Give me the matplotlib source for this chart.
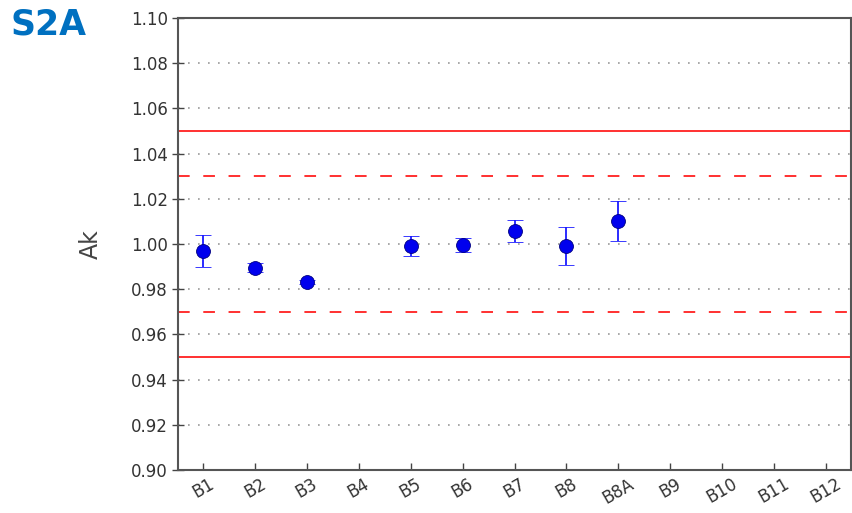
import matplotlib
matplotlib.use("Agg")
import matplotlib.pyplot as plt
import numpy as np

bands = ["B1", "B2", "B3", "B4", "B5", "B6", "B7", "B8", "B8A", "B9", "B10", "B11", "B12"]
ak_values = [0.9969, 0.9894, 0.9832, np.nan, 0.9991, 0.9996, 1.0058, 0.9990, 1.0102,
             np.nan, np.nan, np.nan, np.nan]
ak_errors = [0.0070, 0.0020, 0.0010, np.nan, 0.0044, 0.0030, 0.0050, 0.0084, 0.0090,
             np.nan, np.nan, np.nan, np.nan]
y_ticks = [0.90, 0.92, 0.94, 0.96, 0.98, 1.00, 1.02, 1.04, 1.06, 1.08, 1.10]
solid_limits = [0.95, 1.05]
dashed_limits = [0.97, 1.03]

fig = plt.figure(figsize=(8.52, 5.13), dpi=100)
ax = fig.add_axes([0.209, 0.0838, 0.7898, 0.8812])

x = np.arange(len(bands))
ax.yaxis.grid(True, linestyle=(0, (1, 5)), color="#999999", linewidth=1.2)
ax.set_axisbelow(True)

for v in solid_limits:
    ax.axhline(v, color="#ff3030", linewidth=1.4, zorder=2)
for v in dashed_limits:
    ax.axhline(v, color="#ff3030", linewidth=1.4, linestyle=(0, (6, 7)), zorder=2)

ax.errorbar(x, ak_values, yerr=ak_errors, fmt="o", color="#0000ee", ecolor="#1a1aff",
            markersize=10, markeredgecolor="#000080", markeredgewidth=0.6,
            elinewidth=1.3, capsize=5.5, capthick=1.3, zorder=3)

ax.set_xlim(-0.48, 12.48)
ax.set_ylim(0.90, 1.10)
ax.set_yticks(y_ticks)
ax.set_yticklabels([f"{t:.2f}" for t in y_ticks])
ax.set_xticks(x)
ax.set_xticklabels(bands, rotation=30)

ax.tick_params(axis="both", direction="in", length=5, width=1, colors="#444444",
               labelsize=12, labelcolor="#333333")
ax.tick_params(axis="y", direction="inout", length=8)
for s in ax.spines.values():
    s.set_color("#555555")
    s.set_linewidth(1.5)

ax.set_ylabel("Ak", fontsize=17, color="#444444", labelpad=20)

fig.text(0.012, 0.952, "S2A", fontsize=25, fontweight="bold", color="#0070c0",
         va="center", ha="left")

fig.savefig("out.png", dpi=100)
